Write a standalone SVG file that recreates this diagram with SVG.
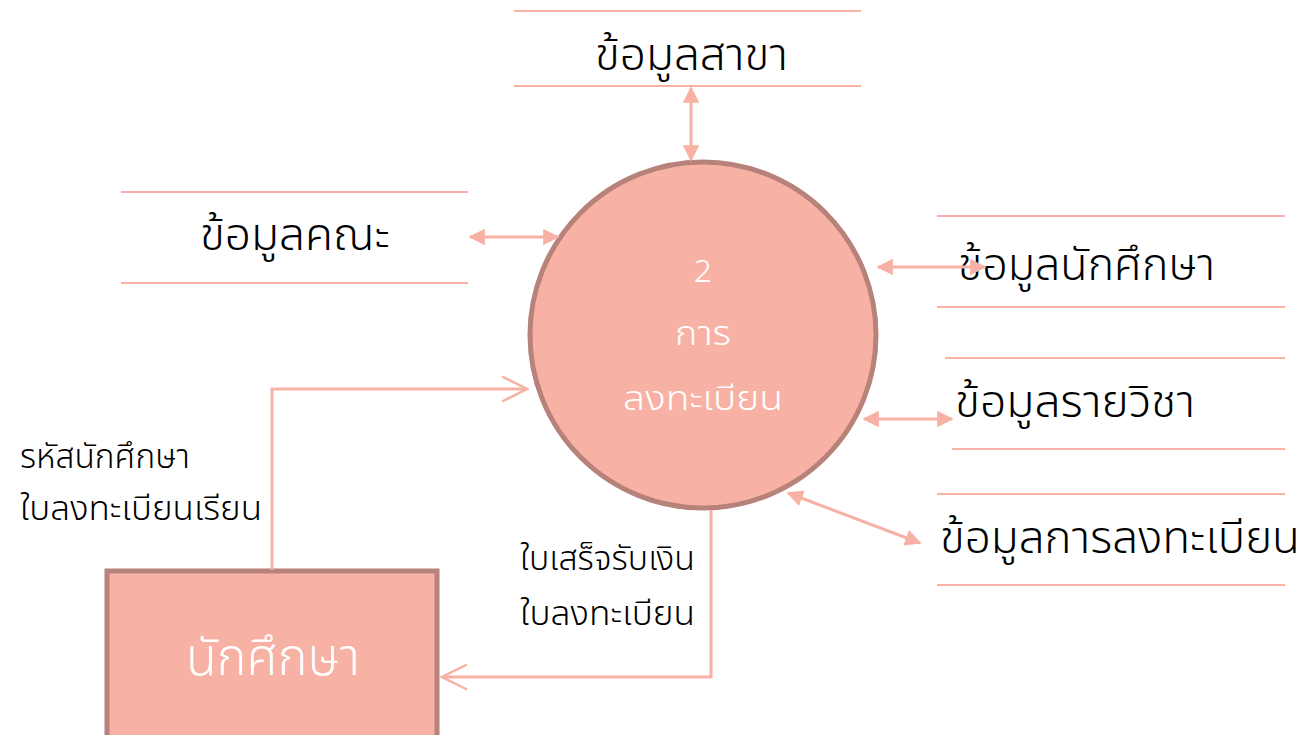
<svg xmlns="http://www.w3.org/2000/svg" width="1306" height="735" viewBox="0 0 1306 735">
<style>
.store{stroke:#f7b2a5;stroke-width:2;fill:none}
.t{font-family:"Noto Sans Thai","Noto Sans","DejaVu Sans",sans-serif;fill:#000;font-weight:300}
.big{font-size:44px}
.lbl{font-size:33px}
.w{fill:#fff}
.flow{stroke:#f7b2a5;stroke-width:3;fill:none}
</style>
<defs>
<marker id="fa" viewBox="0 0 10 10" refX="9" refY="5" markerWidth="5.5" markerHeight="5.5" markerUnits="strokeWidth" orient="auto-start-reverse"><path d="M0,0L10,5L0,10z" fill="#f7b2a5"/></marker>
<marker id="oa" viewBox="0 0 12 12" refX="11" refY="6" markerWidth="10" markerHeight="10" markerUnits="strokeWidth" orient="auto"><path d="M1,1L11,6L1,11" fill="none" stroke="#f7b2a5" stroke-width="1"/></marker>
</defs>
<g id="process">
<circle cx="703" cy="335" r="173" fill="#f7b2a5" stroke="#b6827a" stroke-width="5"/>
<text class="t w" x="703" y="282" font-size="32" text-anchor="middle">2</text>
<text class="t w" x="675" y="345" font-size="33" textLength="56" lengthAdjust="spacingAndGlyphs">การ</text>
<text class="t w" x="623" y="410" font-size="33" textLength="160" lengthAdjust="spacingAndGlyphs">ลงทะเบียน</text>
</g>
<g id="student">
<rect x="107" y="571" width="330" height="170" fill="#f7b2a5" stroke="#b6827a" stroke-width="5"/>
<text class="t w" x="186" y="675" font-size="52" textLength="174" lengthAdjust="spacingAndGlyphs">นักศึกษา</text>
</g>
<g id="ds-branch">
<line class="store" x1="514" y1="11" x2="861" y2="11"/>
<line class="store" x1="514" y1="86" x2="861" y2="86"/>
<text class="t big" x="595" y="70" textLength="193" lengthAdjust="spacingAndGlyphs">ข้อมูลสาขา</text>
</g>
<g id="ds-faculty">
<line class="store" x1="121" y1="192" x2="468" y2="192"/>
<line class="store" x1="121" y1="283" x2="468" y2="283"/>
<text class="t big" x="200" y="250" textLength="190" lengthAdjust="spacingAndGlyphs">ข้อมูลคณะ</text>
</g>
<g id="ds-student">
<line class="store" x1="937" y1="216" x2="1285" y2="216"/>
<line class="store" x1="937" y1="307" x2="1285" y2="307"/>
<text class="t big" x="958" y="280" textLength="257" lengthAdjust="spacingAndGlyphs">ข้อมูลนักศึกษา</text>
</g>
<g id="ds-course">
<line class="store" x1="945" y1="358" x2="1285" y2="358"/>
<line class="store" x1="952" y1="449" x2="1285" y2="449"/>
<text class="t big" x="955" y="417" textLength="240" lengthAdjust="spacingAndGlyphs">ข้อมูลรายวิชา</text>
</g>
<g id="ds-registration">
<line class="store" x1="937" y1="494" x2="1285" y2="494"/>
<line class="store" x1="937" y1="585" x2="1285" y2="585"/>
<text class="t big" x="940" y="553" textLength="360" lengthAdjust="spacingAndGlyphs">ข้อมูลการลงทะเบียน</text>
</g>
<g id="connectors">
<line class="flow" x1="691" y1="88" x2="691" y2="160" marker-start="url(#fa)" marker-end="url(#fa)"/>
<line class="flow" x1="470" y1="237" x2="558" y2="237" marker-start="url(#fa)" marker-end="url(#fa)"/>
<line class="flow" x1="878" y1="267" x2="985" y2="267" marker-start="url(#fa)" marker-end="url(#fa)"/>
<line class="flow" x1="864" y1="419" x2="952" y2="419" marker-start="url(#fa)" marker-end="url(#fa)"/>
<line class="flow" x1="788" y1="493" x2="920" y2="543" marker-start="url(#fa)" marker-end="url(#fa)"/>
<polyline class="flow" points="272,570 272,389 527,389" marker-end="url(#oa)" stroke-width="2"/>
<polyline class="flow" points="711,510 711,677 442,677" marker-end="url(#oa)" stroke-width="2"/>
<text class="t lbl" x="20" y="468" textLength="170" lengthAdjust="spacingAndGlyphs">รหัสนักศึกษา</text>
<text class="t lbl" x="20" y="520" textLength="242" lengthAdjust="spacingAndGlyphs">ใบลงทะเบียนเรียน</text>
<text class="t lbl" x="520" y="570" textLength="175" lengthAdjust="spacingAndGlyphs">ใบเสร็จรับเงิน</text>
<text class="t lbl" x="520" y="625" textLength="175" lengthAdjust="spacingAndGlyphs">ใบลงทะเบียน</text>
</g>
</svg>
